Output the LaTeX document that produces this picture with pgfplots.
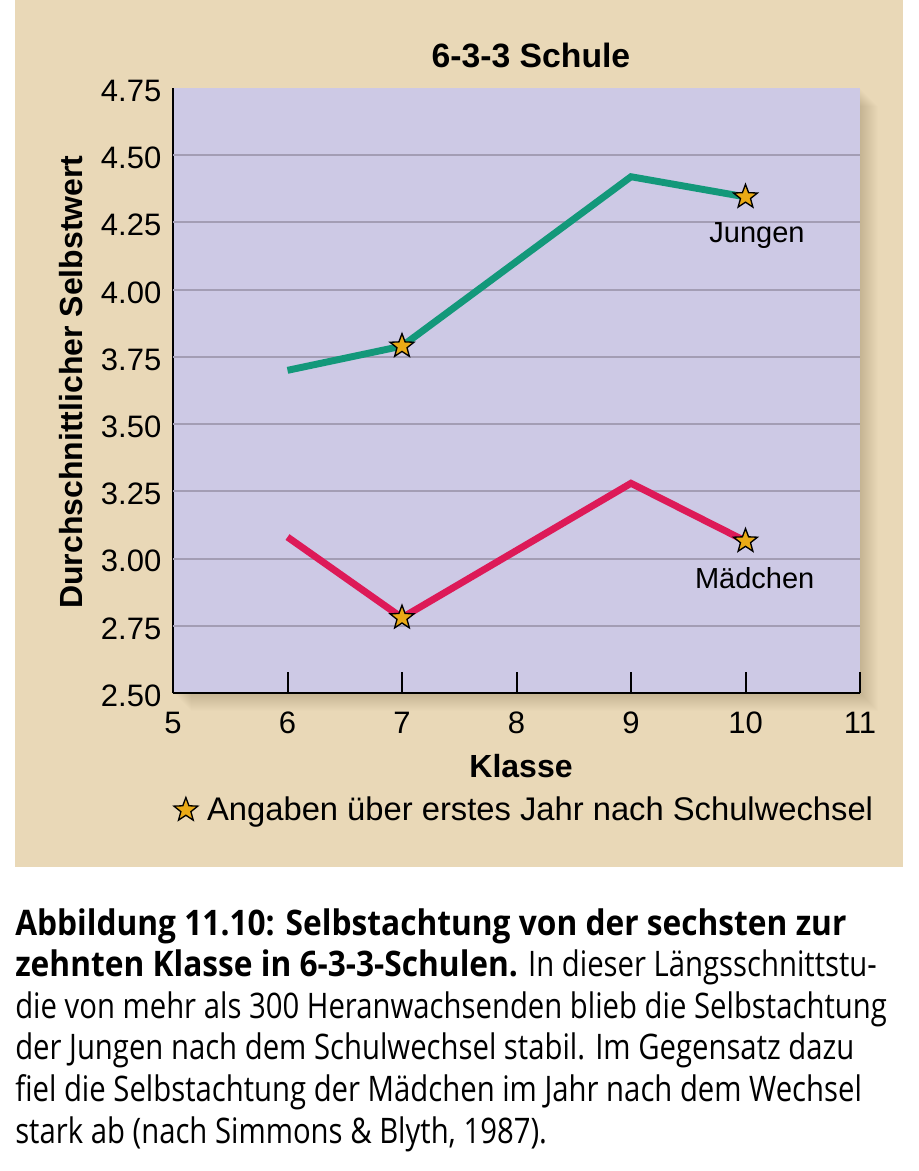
\documentclass[border=0pt]{standalone}
\usepackage{pgfplots}
\pgfplotsset{compat=1.18}
\usepackage{fontspec}
\setmainfont{Liberation Sans}
\newfontfamily\capfont{Open Sans}[FakeStretch=0.832, BoldFeatures={FakeStretch=0.9}]
\definecolor{beige}{RGB}{233,216,183}
\definecolor{lav}{RGB}{205,201,229}
\definecolor{gridc}{RGB}{163,157,180}
\definecolor{jgreen}{RGB}{19,152,122}
\definecolor{mpink}{RGB}{221,26,88}
\definecolor{starc}{RGB}{234,170,22}
\definecolor{shad}{RGB}{90,70,40}
\pgfdeclareplotmark{fstar}{%
  \pgfpathmoveto{\pgfpointpolar{90}{\pgfplotmarksize}}%
  \pgfpathlineto{\pgfpointpolar{126}{0.42\pgfplotmarksize}}%
  \pgfpathlineto{\pgfpointpolar{162}{\pgfplotmarksize}}%
  \pgfpathlineto{\pgfpointpolar{198}{0.42\pgfplotmarksize}}%
  \pgfpathlineto{\pgfpointpolar{234}{\pgfplotmarksize}}%
  \pgfpathlineto{\pgfpointpolar{270}{0.42\pgfplotmarksize}}%
  \pgfpathlineto{\pgfpointpolar{306}{\pgfplotmarksize}}%
  \pgfpathlineto{\pgfpointpolar{342}{0.42\pgfplotmarksize}}%
  \pgfpathlineto{\pgfpointpolar{18}{\pgfplotmarksize}}%
  \pgfpathlineto{\pgfpointpolar{54}{0.42\pgfplotmarksize}}%
  \pgfpathclose
  \pgfusepathqfillstroke}
\pgfplotstableread{
x y
6 3.70
7 3.79
9 4.42
10 4.345
}\jungen
\pgfplotstableread{
x y
6 3.08
7 2.78
9 3.28
10 3.065
}\maedchen
\pgfplotstableread{
x y
7 3.79
10 4.345
7 2.78
10 3.065
}\wechsel
\begin{document}
\begin{tikzpicture}
\begin{scope}[x=0.75pt,y=-0.75pt]
\fill[white] (0,0) rectangle (918,1171);
\fill[beige] (15,0) rectangle (903,867);
\foreach \d in {1,...,18}{\fill[shad,opacity=0.012] (173+\d,88+\d) rectangle (860+\d,693+\d);}
\begin{scope}[every node/.style={anchor=base west,inner sep=0pt,font=\capfont\fontsize{26.4}{32}\selectfont}]
\node at (15,935) {\bfseries Abbildung 11.10: Selbstachtung von der sechsten zur};
\node at (15,976.6) {{\bfseries zehnten Klasse in 6-3-3-Schulen.} In dieser Längsschnittstu-};
\node at (15,1018.2) {die von mehr als 300 Heranwachsenden blieb die Selbstachtung};
\node at (15,1059.8) {der Jungen nach dem Schulwechsel stabil. Im Gegensatz dazu};
\node at (15,1101.4) {fiel die Selbstachtung der Mädchen im Jahr nach dem Wechsel};
\node at (15,1143) {stark ab (nach Simmons \& Blyth, 1987).};
\end{scope}
\end{scope}
\begin{axis}[
 at={(129.75pt,-519.75pt)}, anchor=south west,
 width=515.25pt, height=453.75pt, scale only axis,
 xmin=5, xmax=11, ymin=2.5, ymax=4.75,
 axis background/.style={fill=lav},
 axis x line*=bottom, axis y line*=left,
 axis line style={black, line width=1.5pt, -},
 xtick={5,6,7,8,9,10,11}, xticklabels={5,6,7,8,9,10,11},
 xtick align=inside, major tick length=15.75pt,
 xtick style={black, line width=1.5pt},
 ytick={2.5,2.75,3,3.25,3.5,3.75,4,4.25,4.5,4.75},
 yticklabels={2.50,2.75,3.00,3.25,3.50,3.75,4.00,4.25,4.50,4.75},
 ytick style={draw=none},
 extra y ticks={2.75,3,3.25,3.5,3.75,4,4.25,4.5},
 extra y tick labels={},
 extra y tick style={grid=major, tick style={draw=none}},
 major grid style={gridc, line width=1.5pt},
 ticklabel style={font=\fontsize{23.25}{28}\selectfont},
 xticklabel style={yshift=-10.85pt},
 yticklabel style={xshift=-5.25pt, yshift=-2pt},
 title={6-3-3 Schule},
 title style={at={(axis description cs:0.521,1.040)}, anchor=center, font=\fontsize{25.3}{28}\selectfont\bfseries},
 xlabel={Klasse},
 xlabel style={at={(axis description cs:0.5066,-0.1207)}, anchor=center, font=\fontsize{24}{28}\selectfont\bfseries},
 ylabel={Durchschnittlicher Selbstwert},
 ylabel style={at={(axis description cs:-0.1485,0.514)}, anchor=center, font=\fontsize{24}{28}\selectfont\bfseries},
 clip=false,
 legend style={at={(axis description cs:0.001,-0.1934)}, anchor=west, draw=none, fill=none, font=\fontsize{24.55}{28}\selectfont, inner sep=0pt, /tikz/every odd column/.append style={column sep=5pt}},
 legend cell align=left,
]
\addlegendimage{only marks, mark=fstar, mark size=9.4pt, mark options={fill=starc, draw=black, line width=1pt}}
\addlegendentry{Angaben über erstes Jahr nach Schulwechsel}
\addplot[jgreen, line width=5.2pt, forget plot] table[x=x,y=y] {\jungen};
\addplot[mpink, line width=5.2pt, forget plot] table[x=x,y=y] {\maedchen};
\addplot[only marks, mark=fstar, mark size=9.4pt, mark options={fill=starc, draw=black, line width=1pt}, forget plot] table[x=x,y=y] {\wechsel};
\node[font=\fontsize{21.75}{26}\selectfont] at (axis cs:10.10,4.203) {Jungen};
\node[font=\fontsize{21.75}{26}\selectfont] at (axis cs:10.08,2.928) {Mädchen};
\end{axis}
\end{tikzpicture}
\end{document}
